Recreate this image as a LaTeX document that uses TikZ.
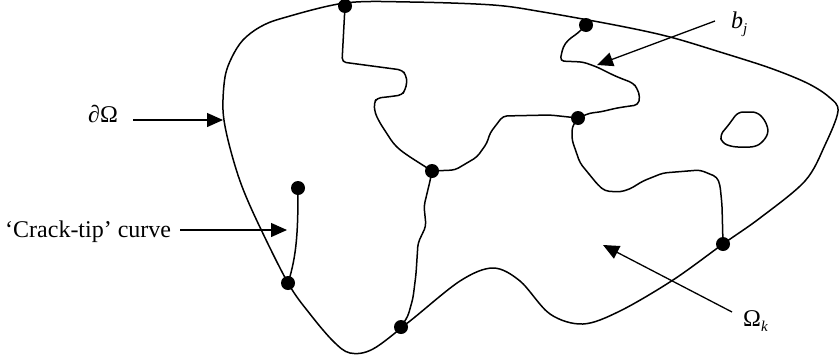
\documentclass[tikz,border=0pt]{standalone}
\usepackage{fontspec}
\setmainfont{Liberation Serif}
\usetikzlibrary{arrows.meta}
\begin{document}
\begin{tikzpicture}[x=1pt,y=-1pt,
  curve/.style={line width=1.5pt,line join=round,line cap=round},
  crack/.style={curve,rounded corners=4pt},
  dot/.style={circle,fill=black,inner sep=0pt,minimum size=14pt},
  arr/.style={line width=1.3pt,-{Triangle[length=16pt,width=14pt]}},
  lbl/.style={inner sep=0pt,font=\fontsize{24}{28}\selectfont}]
\useasboundingbox (0,0) rectangle (840,362);
% outer boundary
\draw[curve] plot[smooth cycle,tension=0.55] coordinates {
  (345,3) (410,2) (493,5) (543,12) (620,26) (670,37) (720,52) (770,68)
  (807,83) (829,97) (838,111) (825,145) (805,181) (760,218) (723,244)
  (673,280) (620,311) (583,324) (550,314) (520,281) (493,268) (460,281)
  (410,321) (373,349) (350,353) (333,341) (310,314) (288,283) (257,221)
  (240,181) (228,140) (223,110) (225,77) (232,57) (243,40) (260,27) (283,18)};
% island
\draw[curve,rounded corners=5pt] (738,112) -- (757,112) -- (765,120) -- (769,132)
  -- (763,142) -- (755,147) -- (733,147) -- (722,143) -- (720,135) -- (727,127) -- cycle;
% dots
\node[dot] (d1) at (345,6) {};
\node[dot] (d2) at (586,25) {};
\node[dot] (d3) at (578,118) {};
\node[dot] (d4) at (432,171) {};
\node[dot] (d5) at (298,188) {};
\node[dot] (d6) at (288,283) {};
\node[dot] (d7) at (401,327) {};
\node[dot] (d8) at (723,244) {};
% cracks
\draw[crack] (d1.center) -- (342,62) -- (402,70) -- (406,75) -- (407,83) -- (405,90)
  -- (402,95) -- (387,97) -- (377,98) -- (374,103) -- (375,113) -- (380,123)
  -- (393,143) -- (400,150) -- (410,157) -- (d4.center);
\draw[crack] (d4.center) -- (455,170) -- (477,157) -- (487,143) -- (490,133)
  -- (503,116) -- (550,115) -- (d3.center);
\draw[crack] (d3.center) -- (590,113) -- (600,112) -- (617,108) -- (630,106)
  -- (638,105) -- (640,97) -- (637,88) -- (633,83) -- (620,78) -- (613,75)
  -- (597,67) -- (583,62) -- (560,61) -- (563,47) -- (568,40) -- (578,33) -- (d2.center);
\draw[crack] (d4.center) -- (430,181) -- (424,206) -- (426,226) -- (418,243)
  -- (416,274) -- (413,298) -- (408,316) -- (d7.center);
\draw[crack] (d3.center) -- (572,127) -- (572,140) -- (580,163) -- (598,185)
  -- (605,191) -- (620,192) -- (630,189) -- (643,181) -- (663,173) -- (700,170)
  -- (717,177) -- (720,185) -- (722,205) -- (d8.center);
\draw[curve] (d5.center) .. controls (298,230) and (297,255) .. (d6.center);
% labels
\node[lbl,anchor=base west] (ldo) at (88,122) {∂Ω};
\node[lbl,anchor=base west] (lct) at (5,237) {‘Crack-tip’ curve};
\node[lbl,anchor=base west] (lbj) at (731,28) {\itshape b\raisebox{-5pt}{\fontsize{15}{16}\selectfont\itshape j}};
\node[lbl,anchor=base west] (lok) at (743,326) {Ω\raisebox{-5pt}{\fontsize{15}{16}\selectfont\itshape k}};
% arrows
\coordinate (a1) at (133,120); \coordinate (t1) at (223,120);
\coordinate (a2) at (180,230); \coordinate (t2) at (287,230);
\coordinate (a3) at (715,21);  \coordinate (t3) at (597,65);
\coordinate (a4) at (732,312); \coordinate (t4) at (603,245);
\draw[arr] (a1) -- (t1);
\draw[arr] (a2) -- (t2);
\draw[arr] (a3) -- (t3);
\draw[arr] (a4) -- (t4);
\end{tikzpicture}
\end{document}
